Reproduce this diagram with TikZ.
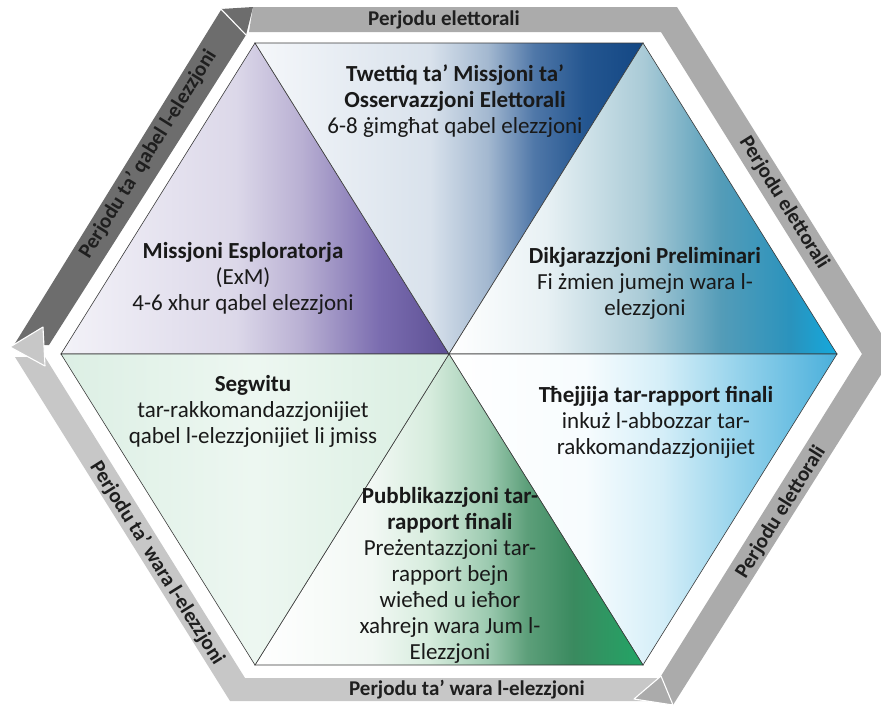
\documentclass[tikz,border=0pt]{standalone}
\usepackage{fontspec}
\setmainfont{Carlito}
\usetikzlibrary{positioning}

% band colours
\definecolor{bandDark}{HTML}{6D6D6D}
\definecolor{bandMid}{HTML}{ABABAB}
\definecolor{bandLight}{HTML}{C7C7C7}
\definecolor{edgeGray}{HTML}{3A3A3A}

% purple
\definecolor{pu0}{HTML}{F3F2F8}\definecolor{pu1}{HTML}{DCD8E9}\definecolor{pu2}{HTML}{B9B0D3}
\definecolor{pu3}{HTML}{7B6DB0}\definecolor{pu4}{HTML}{5C4F94}
% dark blue
\definecolor{db0}{HTML}{F5F7FA}\definecolor{db1}{HTML}{D9E2EC}\definecolor{db2}{HTML}{A3B8D0}
\definecolor{db3}{HTML}{4F77A8}\definecolor{db4}{HTML}{245690}\definecolor{db5}{HTML}{134784}
% teal
\definecolor{te0}{HTML}{FFFFFF}\definecolor{te1}{HTML}{E8F1F4}\definecolor{te2}{HTML}{AACBD7}
\definecolor{te3}{HTML}{549CB8}\definecolor{te4}{HTML}{2A93BD}\definecolor{te5}{HTML}{14A9DD}
% light blue
\definecolor{lb0}{HTML}{FFFFFF}\definecolor{lb1}{HTML}{F7FCFE}\definecolor{lb2}{HTML}{D4EEF8}
\definecolor{lb3}{HTML}{94D2EB}\definecolor{lb4}{HTML}{4AAFDB}
% green
\definecolor{gr0}{HTML}{FFFFFF}\definecolor{gr1}{HTML}{F2F8F4}\definecolor{gr2}{HTML}{D6ECDD}
\definecolor{gr3}{HTML}{9CCAB0}\definecolor{gr4}{HTML}{5D9F7A}\definecolor{gr5}{HTML}{3A8A5F}
\definecolor{gr6}{HTML}{22A566}
% mint
\definecolor{mi0}{HTML}{DCEFE4}\definecolor{mi1}{HTML}{EDF7F1}\definecolor{mi2}{HTML}{D8EEE0}

\pgfdeclarehorizontalshading{exploreshade}{100bp}{color(0bp)=(pu0); color(25bp)=(pu0);
  color(47.5bp)=(pu1); color(56bp)=(pu2); color(66bp)=(pu3); color(75bp)=(pu4); color(100bp)=(pu4)}
\pgfdeclarehorizontalshading{observeshade}{100bp}{color(0bp)=(db0); color(25bp)=(db0);
  color(47.5bp)=(db1); color(55bp)=(db2); color(61bp)=(db3); color(67.5bp)=(db4); color(75bp)=(db5); color(100bp)=(db5)}
\pgfdeclarehorizontalshading{prelimshade}{100bp}{color(0bp)=(te0); color(25bp)=(te0);
  color(37.5bp)=(te1); color(50bp)=(te2); color(60bp)=(te3); color(69bp)=(te4); color(75bp)=(te5); color(100bp)=(te5)}
\pgfdeclarehorizontalshading{finalshade}{100bp}{color(0bp)=(lb0); color(25bp)=(lb0);
  color(42.5bp)=(lb1); color(52.5bp)=(lb2); color(62.5bp)=(lb3); color(75bp)=(lb4); color(100bp)=(lb4)}
\pgfdeclarehorizontalshading{publishshade}{100bp}{color(0bp)=(gr0); color(25bp)=(gr0);
  color(40bp)=(gr1); color(47.5bp)=(gr2); color(55bp)=(gr3); color(60bp)=(gr4); color(66bp)=(gr5); color(75bp)=(gr6); color(100bp)=(gr6)}
\pgfdeclarehorizontalshading{followshade}{100bp}{color(0bp)=(mi0); color(25bp)=(mi0);
  color(50bp)=(mi1); color(75bp)=(mi2); color(100bp)=(mi2)}

\tikzset{
  stage/.style={align=center, inner sep=0pt, text=black!90,
    font=\fontsize{23}{26}\selectfont},
  period/.style={inner sep=0pt, text=black!88,
    font=\fontsize{21}{24}\selectfont\bfseries},
  slice/.style={draw=edgeGray, line width=0.6pt},
  tip/.style={draw=white, line width=1.1pt, line join=round},
}

\begin{document}
\begin{tikzpicture}[x=1pt,y=-1pt]
  \useasboundingbox (0,0) rectangle (881,707);
  \clip (0,0) rectangle (881,707);

  % hexagon corners
  \coordinate (O) at (449,354);
  \coordinate (TL) at (255,43);
  \coordinate (TR) at (643,43);
  \coordinate (R) at (837,354);
  \coordinate (BR) at (643,665);
  \coordinate (BL) at (255,665);
  \coordinate (L) at (61,354);

  % outer bands
  \fill[bandLight] (657,678) -- (245,678) -- (45,357) -- (15,357) -- (230,701) -- (657,701) -- cycle;
  \fill[bandMid] (253,7) -- (677,7) -- (894,354) -- (673,705) -- (661,676) -- (862,354) -- (661,32) -- (249,32) -- cycle;
  \fill[bandDark] (14,345) -- (221,10) -- (246,35) -- (49,345) -- cycle;
  % arrow tips
  \filldraw[bandMid, tip] (661,676) -- (673,705) -- (634,699) -- cycle;
  \filldraw[bandLight, tip] (43,327) -- (45,366) -- (10,347) -- cycle;
  \fill[bandDark] (221,9) -- (253,7) -- (246,35) -- cycle;
  \draw[white, line width=1.1pt] (221,9) -- (246,35);

  % six slices
  \shadedraw[shading=exploreshade, slice] (TL) -- (O) -- (L) -- cycle;
  \shadedraw[shading=observeshade, slice] (TL) -- (TR) -- (O) -- cycle;
  \shadedraw[shading=prelimshade, slice] (TR) -- (R) -- (O) -- cycle;
  \shadedraw[shading=finalshade, slice] (O) -- (R) -- (BR) -- cycle;
  \shadedraw[shading=publishshade, slice] (O) -- (BR) -- (BL) -- cycle;
  \shadedraw[shading=followshade, slice] (L) -- (O) -- (BL) -- cycle;

  % stage texts
  \node[stage] (observe) at (455,101) {\textbf{Twettiq ta’ Missjoni ta’}\\\textbf{Osservazzjoni Elettorali}\\6-8 ġimgħat qabel elezzjoni};
  \node[stage] (explore) at (243,278) {\textbf{Missjoni Esploratorja}\\(ExM)\\4-6 xhur qabel elezzjoni};
  \node[stage] (prelim) at (645,283) {\textbf{Dikjarazzjoni Preliminari}\\Fi żmien jumejn wara l-\\elezzjoni};
  \node[stage] (follow) at (253,411) {\textbf{Segwitu}\\tar-rakkomandazzjonijiet\\qabel l-elezzjonijiet li jmiss};
  \node[stage] (final) at (656,422) {\textbf{Tħejjija tar-rapport finali}\\inkuż l-abbozzar tar-\\rakkomandazzjonijiet};
  \node[stage] (publish) at (450,575) {\textbf{Pubblikazzjoni tar-}\\\textbf{rapport finali}\\Preżentazzjoni tar-\\rapport bejn\\wieħed u ieħor\\xahrejn wara Jum l-\\Elezzjoni};

  % period labels
  \node[period] (perTop) at (444,20) {Perjodu elettorali};
  \node[period, rotate=-58] (perUR) at (784,203) {Perjodu elettorali};
  \node[period, rotate=58] (perLR) at (781,512) {Perjodu elettorali};
  \node[period] (perBot) at (467,690) {Perjodu ta’ wara l-elezzjoni};
  \node[period, rotate=-58] (perLL) at (157,563) {Perjodu ta’ wara l-elezzjoni};
  \node[period, rotate=58] (perUL) at (148,154) {Perjodu ta’ qabel l-elezzjoni};
\end{tikzpicture}
\end{document}
